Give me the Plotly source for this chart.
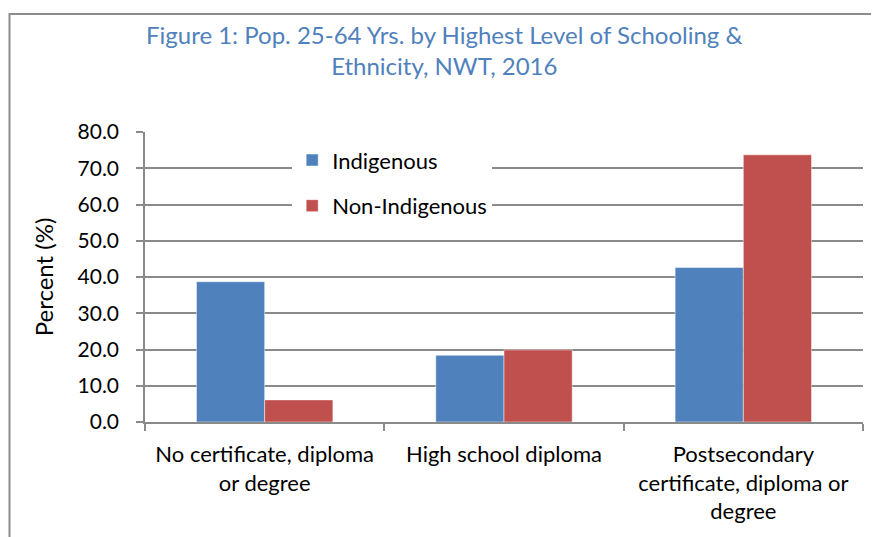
import plotly.graph_objects as go

categories = [
    "No certificate, diploma<br>or degree",
    "High school diploma",
    "Postsecondary<br>certificate, diploma or<br>degree",
]
indigenous = [38.7, 18.4, 42.6]
non_indigenous = [6.1, 19.9, 73.7]

BLUE = "#4F81BD"
RED = "#C0504D"
GRID = "#8a8a8a"
FONT = "Lato, Calibri, sans-serif"

# page body adds an 8px margin, so the figure is a bit smaller than the window
W, H = 871, 529
L, R, T, B = 137, 16, 124, 115

fig = go.Figure()
fig.add_trace(go.Bar(x=categories, y=indigenous, name="Indigenous",
                     marker=dict(color=BLUE, line=dict(color="rgba(255,255,255,0.6)", width=0.8)),
                     legendgroup="a"))
fig.add_trace(go.Bar(x=categories, y=non_indigenous, name="Non-Indigenous",
                     marker=dict(color=RED, line=dict(color="rgba(255,255,255,0.6)", width=0.8)),
                     legendgroup="b"))

# outer chart frame (cut off at right and bottom like the source)
pw, ph = W - L - R, H - T - B
fig.add_shape(type="rect", xref="paper", yref="paper",
              x0=(1.5 - L) / pw, x1=(W + 40 - L) / pw,
              y0=-(B + 20) / ph, y1=(H - B - 6) / ph,
              line=dict(color="#8c8c8c", width=2), layer="below")

fig.add_annotation(text="Figure 1: Pop. 25-64 Yrs. by Highest Level of Schooling &<br>Ethnicity, NWT, 2016",
                   xref="paper", yref="paper",
                   x=(436 - L) / pw, y=(H - B - 10) / ph,
                   xanchor="center", yanchor="top", showarrow=False,
                   font=dict(family=FONT, size=24, color=BLUE))

fig.update_layout(
    width=W, height=H,
    margin=dict(l=L, r=R, t=T, b=B),
    paper_bgcolor="white", plot_bgcolor="white",
    font=dict(family=FONT, size=22, color="black"),
    barmode="group", bargap=0.43, bargroupgap=0,
    showlegend=True,
    legend=dict(x=0.205, y=0.975, xanchor="left", yanchor="top",
                bgcolor="white", font=dict(size=22),
                traceorder="grouped", tracegroupgap=14,
                itemwidth=30),
)
fig.update_yaxes(range=[0, 80], dtick=10, tickformat=".1f",
                 tickfont=dict(size=21),
                 showgrid=True, gridcolor=GRID, gridwidth=1.5,
                 showline=True, linecolor=GRID, linewidth=1.5,
                 ticks="outside", ticklen=7, tickcolor=GRID, tickwidth=1.5,
                 ticklabelstandoff=13,
                 title=dict(text="Percent (%)", standoff=17,
                            font=dict(family=FONT, size=24, color="black")),
                 zeroline=False)
fig.update_xaxes(showline=True, linecolor=GRID, linewidth=1.5,
                 ticks="outside", ticklen=7, tickcolor=GRID, tickwidth=1.5,
                 ticklabelstandoff=12,
                 tickson="boundaries", showgrid=False)

fig.write_html("out.html")
